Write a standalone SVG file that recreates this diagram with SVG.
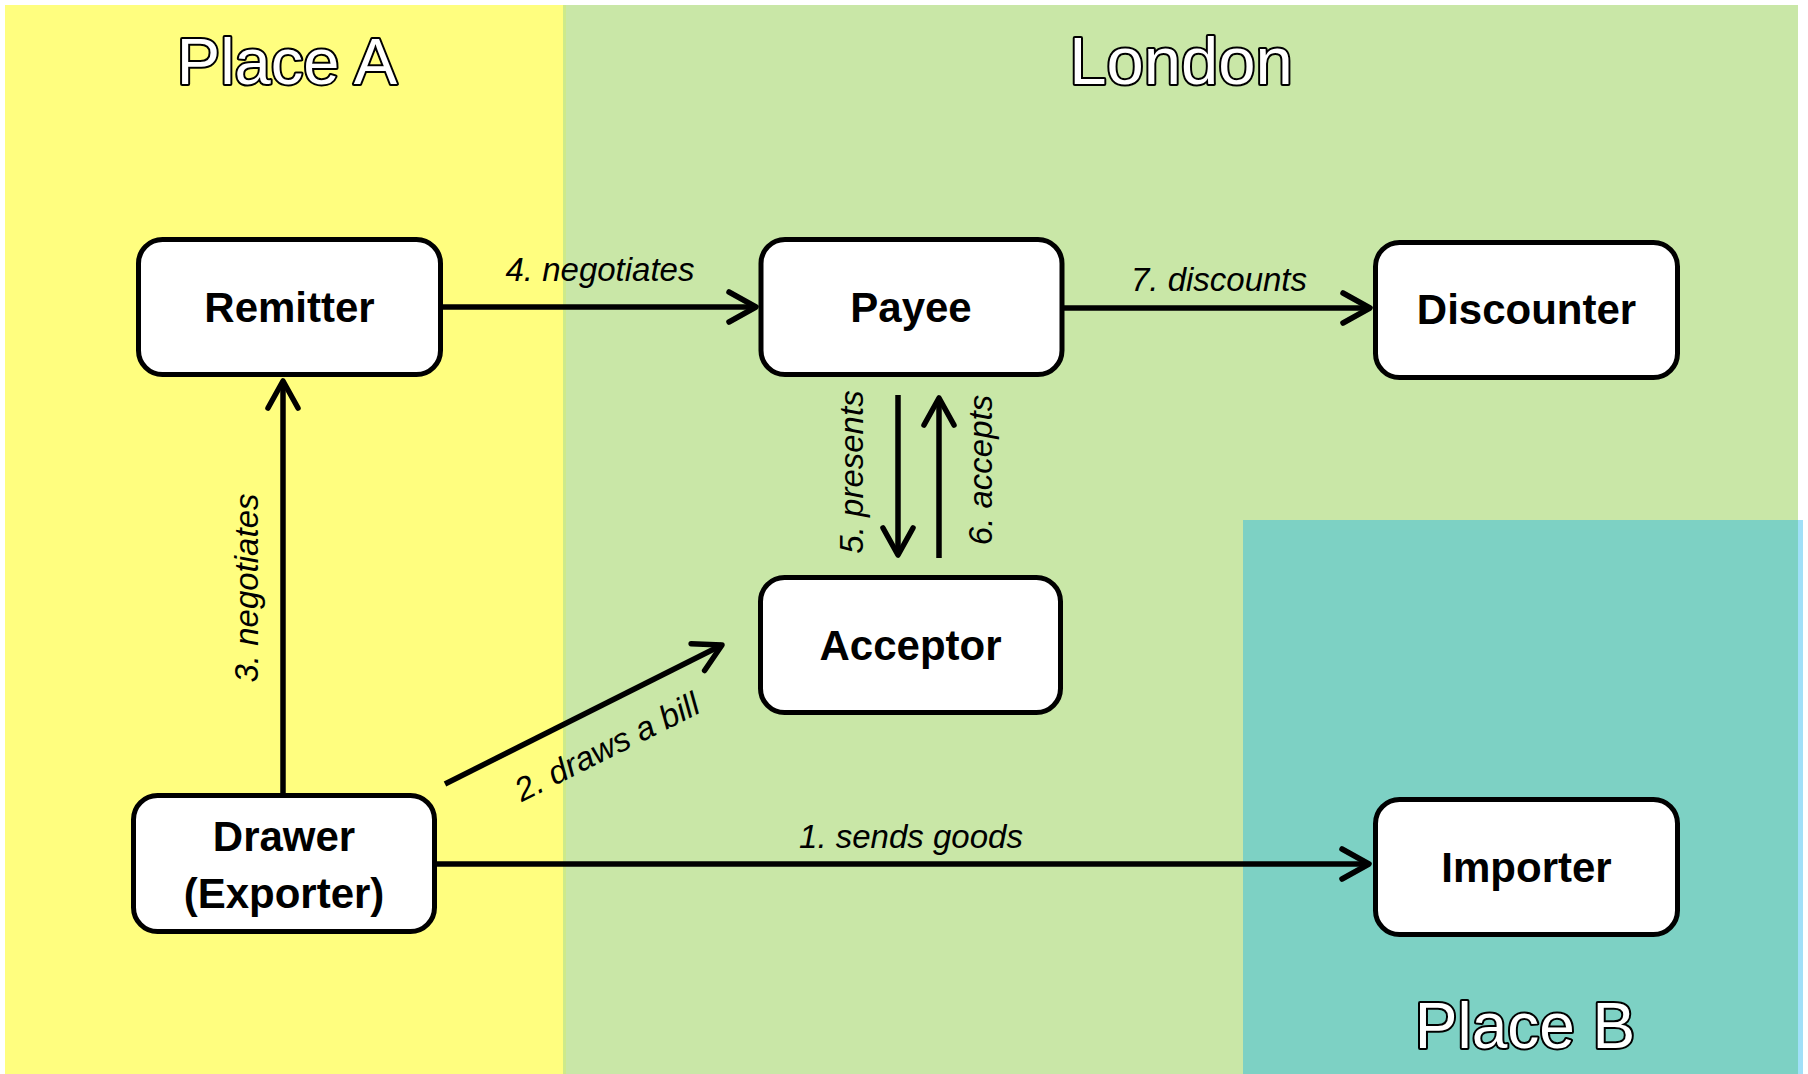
<svg xmlns="http://www.w3.org/2000/svg" width="1808" height="1074" viewBox="0 0 1808 1074">
<style>
.title{font-family:"Liberation Sans",Arial,sans-serif;fill:#fff;stroke:#000;stroke-width:4;paint-order:stroke;stroke-linejoin:round;text-anchor:middle}
.box{fill:#fff;stroke:#000;stroke-width:5}
.nt{font-family:"Liberation Sans",Arial,sans-serif;font-weight:bold;font-size:42px;fill:#000;text-anchor:middle}
.el{font-family:"Liberation Sans",Arial,sans-serif;font-style:italic;font-size:33px;fill:#000;text-anchor:middle}
.ln{fill:none;stroke:#000;stroke-width:5.5;marker-end:url(#arr)}
</style>
<defs>
<marker id="arr" markerUnits="userSpaceOnUse" viewBox="-34 -22 40 44" refX="0" refY="0" markerWidth="40" markerHeight="44" orient="auto">
<path d="M-27 -15 L0 0 L-27 15" fill="none" stroke="#000" stroke-width="5.5" stroke-linecap="round" stroke-linejoin="round"/>
</marker>
</defs>
<rect width="1808" height="1074" fill="#fff"/>
<g id="regions">
<rect x="5" y="5" width="560" height="1069" fill="#FFFE7F"/>
<rect x="565" y="5" width="1233" height="1069" fill="#C9E7A7"/>
<rect x="563" y="5" width="3" height="1069" fill="#CDEA8A"/>
<rect x="1243" y="520" width="555" height="554" fill="#7DD1C4"/>
<rect x="1798" y="520" width="5" height="554" fill="#A0E0F8"/>
<text class="title" x="287" y="84" font-size="65">Place A</text>
<text class="title" x="1181" y="84" font-size="67">London</text>
<text class="title" x="1525" y="1048" font-size="64">Place B</text>
</g>
<g id="connectors">
<path class="ln" d="M283 794 L283 381"/>
<path class="ln" d="M443 307 L756 307"/>
<path class="ln" d="M1063 308 L1370 308"/>
<path class="ln" d="M898 395 L898 555"/>
<path class="ln" d="M939 558 L939 398"/>
<path class="ln" d="M445 784 L722 645"/>
<path class="ln" d="M437 864 L1369 864"/>
<text class="el" x="600" y="281">4. negotiates</text>
<text class="el" x="1219" y="291">7. discounts</text>
<text class="el" x="911" y="848">1. sends goods</text>
<text class="el" transform="translate(258,588) rotate(-90)">3. negotiates</text>
<text class="el" transform="translate(863,472) rotate(-90)">5. presents</text>
<text class="el" transform="translate(992,470) rotate(-90)">6. accepts</text>
<text class="el" transform="translate(612,757) rotate(-26.6)">2. draws a bill</text>
</g>
<g id="remitter">
<rect class="box" x="138.5" y="239.5" width="302" height="135" rx="24"/>
<text class="nt" x="289.5" y="322">Remitter</text>
</g>
<g id="payee">
<rect class="box" x="761" y="239.5" width="301" height="135" rx="24"/>
<text class="nt" x="911" y="322">Payee</text>
</g>
<g id="discounter">
<rect class="box" x="1375.5" y="242.5" width="302" height="135" rx="24"/>
<text class="nt" x="1526.5" y="324">Discounter</text>
</g>
<g id="acceptor">
<rect class="box" x="760.5" y="577.5" width="300" height="135" rx="24"/>
<text class="nt" x="910.5" y="660">Acceptor</text>
</g>
<g id="drawer">
<rect class="box" x="133.5" y="795.5" width="301" height="136" rx="24"/>
<text class="nt" x="284" y="851">Drawer</text>
<text class="nt" x="284" y="908">(Exporter)</text>
</g>
<g id="importer">
<rect class="box" x="1375.5" y="799.5" width="302" height="135" rx="24"/>
<text class="nt" x="1526.5" y="882">Importer</text>
</g>
</svg>
